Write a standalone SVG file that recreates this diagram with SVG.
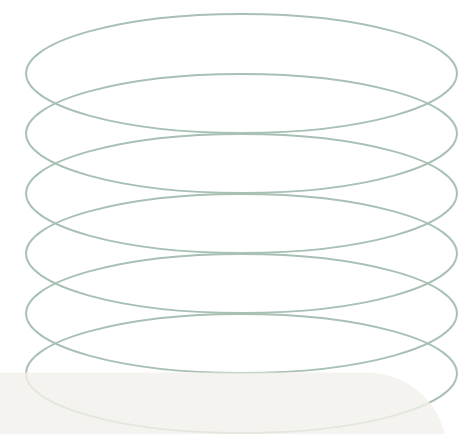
<svg xmlns="http://www.w3.org/2000/svg" width="458" height="434" viewBox="0 0 458 434">
<style>
.ring{fill:none;stroke:#a8c1b4;stroke-width:1.9}
.base{fill:#f2f0eb;fill-opacity:0.8}
</style>
<rect width="458" height="434" fill="#ffffff"/>
<g id="rings">
<ellipse id="ring1" class="ring" cx="241.5" cy="73.5" rx="215.5" ry="59.5"/>
<ellipse id="ring2" class="ring" cx="241.5" cy="133.5" rx="215.5" ry="59.5"/>
<ellipse id="ring3" class="ring" cx="241.5" cy="193.5" rx="215.5" ry="59.5"/>
<ellipse id="ring4" class="ring" cx="241.5" cy="253.5" rx="215.5" ry="59.5"/>
<ellipse id="ring5" class="ring" cx="241.5" cy="313.5" rx="215.5" ry="59.5"/>
<ellipse id="ring6" class="ring" cx="241.5" cy="373.5" rx="215.5" ry="59.5"/>
</g>
<g id="base">
<rect class="base" x="-100" y="372.5" width="547" height="160" rx="80" ry="80"/>
</g>
</svg>
